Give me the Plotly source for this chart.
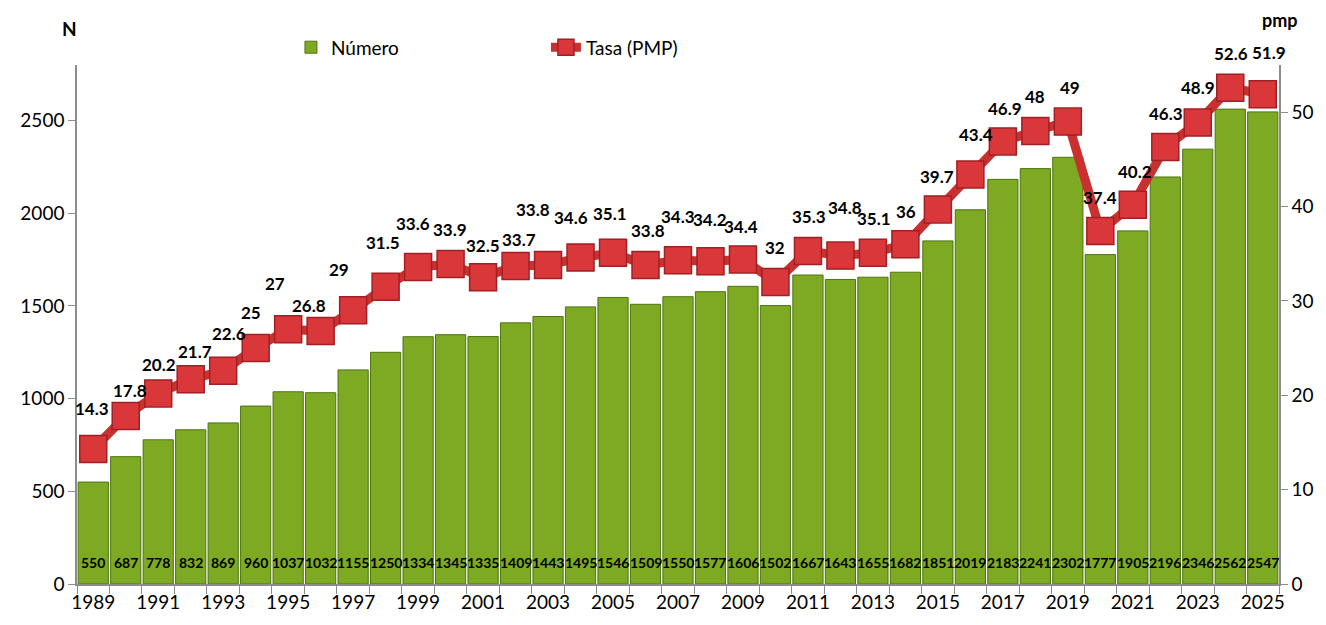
import plotly.graph_objects as go

# data
years = list(range(1989, 2026))
numero = [550, 687, 778, 832, 869, 960, 1037, 1032, 1155, 1250, 1334, 1345, 1335,
          1409, 1443, 1495, 1546, 1509, 1550, 1577, 1606, 1502, 1667, 1643, 1655,
          1682, 1851, 2019, 2183, 2241, 2302, 1777, 1905, 2196, 2346, 2562, 2547]
tasa = [14.3, 17.8, 20.2, 21.7, 22.6, 25, 27, 26.8, 29, 31.5, 33.6, 33.9, 32.5,
        33.7, 33.8, 34.6, 35.1, 33.8, 34.3, 34.2, 34.4, 32, 35.3, 34.8, 35.1,
        36, 39.7, 43.4, 46.9, 48, 49, 37.4, 40.2, 46.3, 48.9, 52.6, 51.9]
year_ticks = years[::2]

# label offsets (pixels) for the rate labels
lab_dy = [41, 26, 29, 28, 37, 36, 46, 26, 41, 44, 43, 35, 32,
          26, 56, 40, 39, 35, 44, 42, 33, 35, 34, 48, 34,
          33, 33, 40, 33, 35, 34, 34, 33, 34, 35, 34, 42]
lab_dx = [-1, 4, 1, 4, 6, -5, -13, -12, -14, -3, -5, -1, 0,
          3, -15, -10, -3, 2, 0, 0, -2, 0, 1, 5, 1,
          1, -1, 6, 2, 0, 2, 0, 2, 1, 0, 1, 6]

FONT = "Lato"
AXIS_GREY = "#8c8c8c"

fig = go.Figure()

fig.add_trace(go.Bar(
    x=years, y=numero, name="Número",
    marker=dict(color="#7DA923", line=dict(color="#4E7412", width=1)),
))

fig.add_trace(go.Scatter(
    x=years, y=tasa, name="Tasa (PMP)", yaxis="y2", mode="lines+markers",
    line=dict(color="#C8312F", width=9),
    marker=dict(symbol="square", size=27, color="#D9373A",
                line=dict(color="#A02024", width=1.5)),
))

annotations = []
for yr, v in zip(years, numero):
    annotations.append(dict(x=yr, y=0, text=str(v), showarrow=False, yshift=22,
                            yanchor="middle",
                            font=dict(family=FONT, size=14, color="black", weight="bold")))
for yr, r, dy, dx in zip(years, tasa, lab_dy, lab_dx):
    annotations.append(dict(x=yr, y=r, yref="y2", text=f"{r:g}", showarrow=False,
                            yshift=dy, xshift=dx, yanchor="middle",
                            font=dict(family=FONT, size=17, color="black", weight="bold")))
annotations.append(dict(x=-0.006, y=1.071, xref="paper", yref="paper", text="N",
                        showarrow=False, xanchor="center", yanchor="middle",
                        font=dict(family=FONT, size=19, color="black", weight="bold")))
annotations.append(dict(x=1.001, y=1.086, xref="paper", yref="paper", text="pmp",
                        showarrow=False, xanchor="center", yanchor="middle",
                        font=dict(family=FONT, size=18, color="black", weight="bold")))

# the page adds an 8px body margin, so the figure is sized to the window minus that
fig.update_layout(
    width=1318, height=617,
    margin=dict(l=64, r=47, t=57, b=30),
    paper_bgcolor="white", plot_bgcolor="white",
    font=dict(family=FONT, size=19, color="black"),
    bargap=0.07,
    showlegend=True,
    legend=dict(orientation="h", x=0.178, y=1.034, xanchor="left", yanchor="middle",
                entrywidth=210, entrywidthmode="pixels",
                font=dict(family=FONT, size=19, color="black")),
    xaxis=dict(range=[1988.5, 2025.5], tickmode="array", tickvals=year_ticks,
               ticks="", showgrid=False, showline=True, linecolor=AXIS_GREY, linewidth=1.5,
               tickfont=dict(size=19),
               minor=dict(tickmode="linear", tick0=1988.5, dtick=1, ticks="outside",
                          ticklen=8, tickcolor=AXIS_GREY, showgrid=False)),
    yaxis=dict(range=[0, 2800], dtick=500, showgrid=False, showline=True,
               linecolor=AXIS_GREY, linewidth=1.5, ticks="outside", ticklen=7,
               tickcolor=AXIS_GREY, tickfont=dict(size=19), zeroline=False),
    yaxis2=dict(range=[0, 55], dtick=10, overlaying="y", side="right", showgrid=False,
                showline=True, linecolor=AXIS_GREY, linewidth=1.5, ticks="outside",
                ticklen=7, tickcolor=AXIS_GREY, tickfont=dict(size=19), zeroline=False),
    annotations=annotations,
)

fig.write_html("out.html")
